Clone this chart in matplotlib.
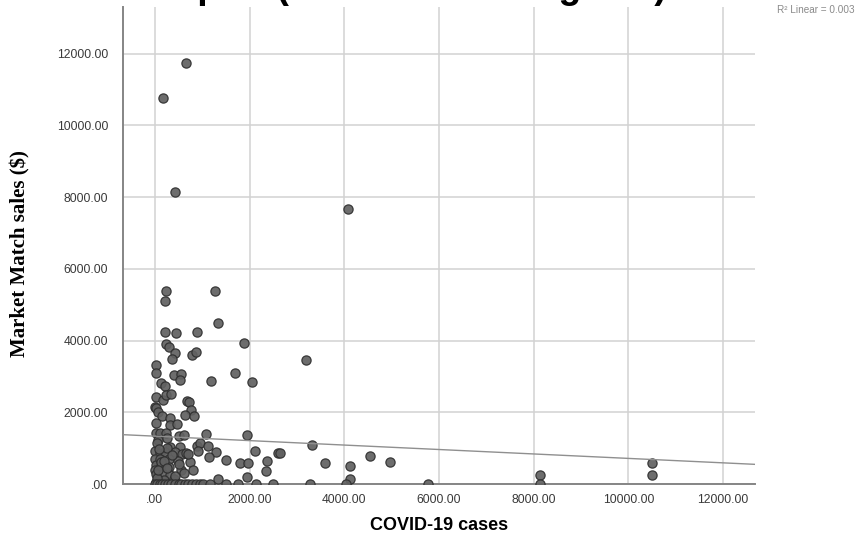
import numpy as np
import matplotlib
matplotlib.use('Agg')
import matplotlib.pyplot as plt
from matplotlib.ticker import FuncFormatter

# 数据
covid_cases = [
    663, 170, 415, 4075, 235, 205, 1261, 1335, 205, 452, 888, 1885, 226, 290, 416, 368, 775, 862,
    3190, 20, 15, 395, 557, 537, 1195, 1695, 2058, 138, 210, 30, 169, 226, 340, 680, 718, 0, 30, 769,
    63, 156, 311, 630, 818, 15, 325, 465, 15, 114, 241, 63, 254, 507, 606, 1071, 1950, 3326, 325, 537,
    888, 944, 1120,
    0, 114, 205, 416, 579, 663, 1283, 1141, 733, 803, 1508, 1790, 1965, 2107, 1944, 2367, 2339, 2600,
    2649, 3590, 4120, 4120, 4540, 4955, 8137, 10491, 10491, 1331, 697, 909,
    0, 15, 0, 30, 100, 130, 170, 300, 290, 330, 480, 550, 60, 200, 400, 620, 20, 250, 45, 90, 140,
    360, 510, 40, 75, 185, 265, 430,
    0, 50, 99, 150, 219, 280, 346, 420, 500, 557, 630, 697, 780, 874, 950, 1014, 1156, 1494, 1754,
    2142, 2494, 3269, 4044, 5768, 8137,
]
market_sales = [
    11740, 10750, 8150, 7680, 5390, 5095, 5390, 4480, 4250, 4200, 4250, 3930, 3906, 3820, 3646, 3478,
    3590, 3680, 3460, 3320, 3090, 3041, 3065, 2890, 2883, 3090, 2855, 2827, 2734, 2436, 2344, 2483,
    2503, 2316, 2297, 2157, 2112, 2070,
    2017, 1900, 1850, 1930, 1897, 1710, 1646, 1680, 1431, 1431, 1415, 1228, 1275, 1339, 1367, 1395,
    1367, 1088, 1041, 1041, 1060, 1135, 1060,
    929, 856, 902, 902, 837, 856, 902, 763, 623, 391, 670, 595, 577, 929, 204, 650, 372, 857, 873,
    577, 502, 135, 781, 623, 251, 595, 251, 130, 828, 921,
    700, 540, 390, 270, 700, 500, 270, 700, 480, 240, 630, 380, 120, 100, 150, 300, 60, 1000, 1150,
    980, 620, 820, 560, 160, 400, 640, 450, 230,
    0, 0, 0, 0, 0, 0, 0, 0, 0, 0, 0, 0, 0, 0, 0, 0, 0, 0, 0, 0, 0, 0, 0, 0, 0,
]
# 拟合直线
fit_intercept = 1334
fit_slope = -0.062
r2_text = 'R\u00b2 Linear = 0.003'

x_ticks = np.arange(0, 12001, 2000)
y_ticks = np.arange(0, 12001, 2000)


def spss_fmt(v, pos):
    s = '%.2f' % v
    if s.startswith('0.'):
        s = s[1:]
    return s


plt.rcParams['font.family'] = ['Liberation Sans', 'DejaVu Sans']

fig = plt.figure(figsize=(8.56, 5.42), dpi=100)
ax = fig.add_axes([0.144, 0.107, 0.7375, 0.880])

ax.scatter(covid_cases, market_sales, s=44, facecolor='#616161', edgecolor='#2f2f2f',
           linewidths=0.9, alpha=0.92, zorder=3)
ax.axline((0, fit_intercept), slope=fit_slope, color='#8f8f8f', lw=1.0, zorder=4)

ax.set_xlim(-667, 12663)
ax.set_ylim(0, 13300)
ax.set_xticks(x_ticks)
ax.set_yticks(y_ticks)
ax.xaxis.set_major_formatter(FuncFormatter(spss_fmt))
ax.yaxis.set_major_formatter(FuncFormatter(spss_fmt))
ax.tick_params(length=0, labelsize=8.7, labelcolor='#3a3a3a')
ax.tick_params(axis='y', pad=11)
ax.tick_params(axis='x', pad=7)
ax.grid(True, color='#d2d2d2', lw=1.1, zorder=0)
ax.set_axisbelow(True)
for side in ['top', 'right']:
    ax.spines[side].set_visible(False)
for side in ['left', 'bottom']:
    ax.spines[side].set_color('#858585')
    ax.spines[side].set_linewidth(1.4)

# 标题（上半部被裁掉）
fig.text(368 / 856, 1 + 2 / 542, 'Scatterplot (without Los Angeles)', ha='center', va='baseline',
         fontsize=27, fontweight='bold')
fig.text(855 / 856, 1 - 10 / 542, r2_text, ha='right', va='center', fontsize=7.2, color='#8a8a8a')
fig.text(20 / 856, 1 - 254 / 542, 'Market Match sales ($)', rotation=90, ha='center', va='center',
         fontsize=15, fontweight='bold', family=['Liberation Serif', 'DejaVu Serif'])
fig.text(439 / 856, 1 - 525 / 542, 'COVID-19 cases', ha='center', va='center', fontsize=13,
         fontweight='bold')

fig.savefig('out.png', dpi=100)
